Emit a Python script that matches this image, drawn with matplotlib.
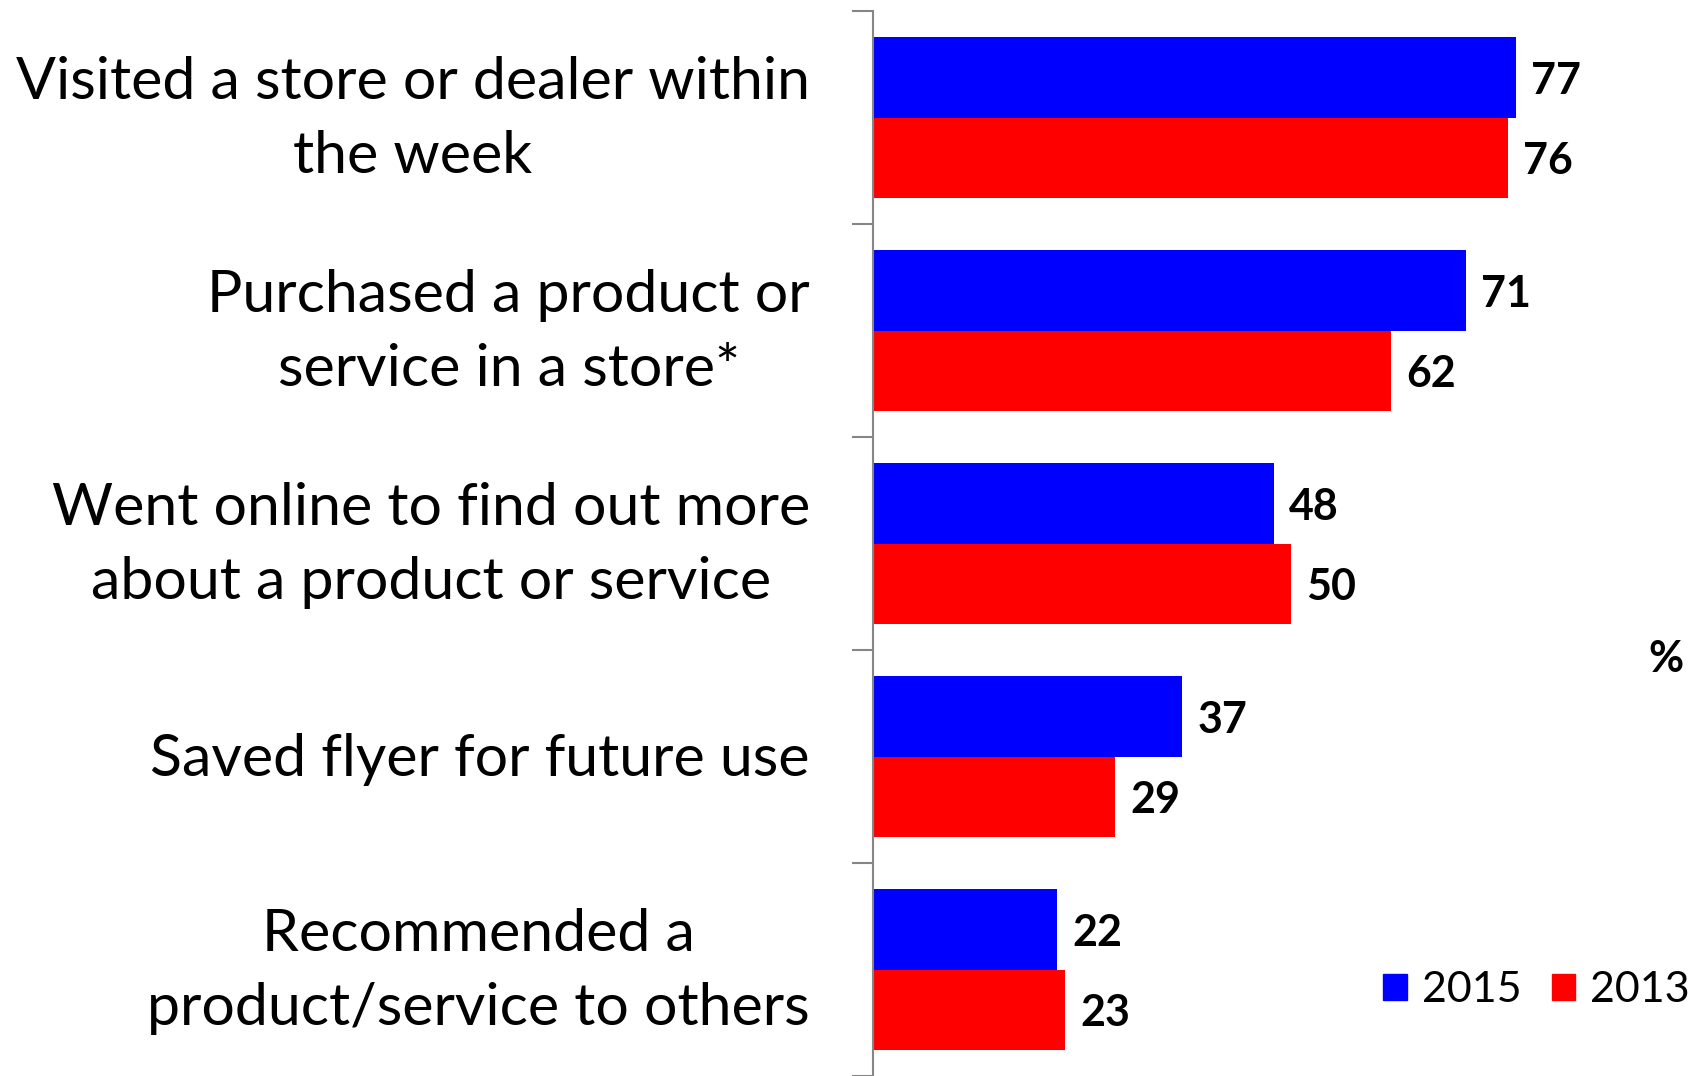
import matplotlib.pyplot as plt
import numpy as np
from matplotlib.patches import Patch
from matplotlib.transforms import ScaledTranslation

plt.rcParams["font.family"] = ["Lato", "DejaVu Sans"]

categories = [
    "Visited a store or dealer within\nthe week",
    "Purchased a product or\nservice in a store*",
    "Went online to find out more\nabout a product or service",
    "Saved flyer for future use",
    "Recommended a\nproduct/service to others",
]
series_names = ["2015", "2013"]
values_2015 = [77, 71, 48, 37, 22]
values_2013 = [76, 62, 50, 29, 23]

blue = "#0000ff"
red = "#ff0000"
axis_grey = "#868686"

W, H = 1699, 1076
fig = plt.figure(figsize=(W / 100, H / 100), dpi=100)
ax = fig.add_axes([873 / W, 0.0, (W - 873) / W, (H - 11) / H])

y = np.arange(len(categories))
bar_h = 0.378
ax.barh(y - bar_h / 2, values_2015, height=bar_h, color=blue)
ax.barh(y + bar_h / 2, values_2013, height=bar_h, color=red)

# bold value labels just past the end of each bar
for offset, vals in ((-bar_h / 2, values_2015), (bar_h / 2, values_2013)):
    for yi, v in zip(y, vals):
        ax.annotate(str(v), (v, yi + offset), xytext=(11, 0), textcoords="offset points",
                    ha="left", va="center_baseline", fontsize=31, fontweight="bold")

ax.set_xlim(0, 98.9)
ax.set_ylim(len(categories) - 0.5, -0.5)

# category names drawn as text left of the axis, centred lines, right-aligned block
ax.set_yticks(y)
ax.set_yticklabels([])
for yi, name in zip(y, categories):
    lift = -0.02 if "\n" in name else -0.035
    tr = ax.get_yaxis_transform() + ScaledTranslation(-0.63, lift, fig.dpi_scale_trans)
    ax.text(0, yi, name, transform=tr, ha="right", va="center", multialignment="center",
            fontsize=42.5, linespacing=1.5)

ax.set_yticks(np.arange(-0.5, len(categories), 1.0), minor=True)
ax.tick_params(axis="y", which="major", length=0)
ax.tick_params(axis="y", which="minor", length=15, width=1.5, color=axis_grey)
ax.set_xticks([])

for side in ("top", "right", "bottom"):
    ax.spines[side].set_visible(False)
ax.spines["left"].set_color(axis_grey)
ax.spines["left"].set_linewidth(1.5)

fig.text(1684 / W, 1 - 655 / H, "%", ha="right", va="center_baseline",
         fontsize=31, fontweight="bold")

handles = [Patch(color=blue), Patch(color=red)]
fig.legend(handles, series_names, loc="center right", bbox_to_anchor=(1690 / W, 1 - 990 / H),
           ncol=2, frameon=False, fontsize=31, handlelength=0.55, handleheight=0.55,
           handletextpad=0.35, columnspacing=0.7, borderpad=0, borderaxespad=0)

fig.savefig("out.png", dpi=100)
